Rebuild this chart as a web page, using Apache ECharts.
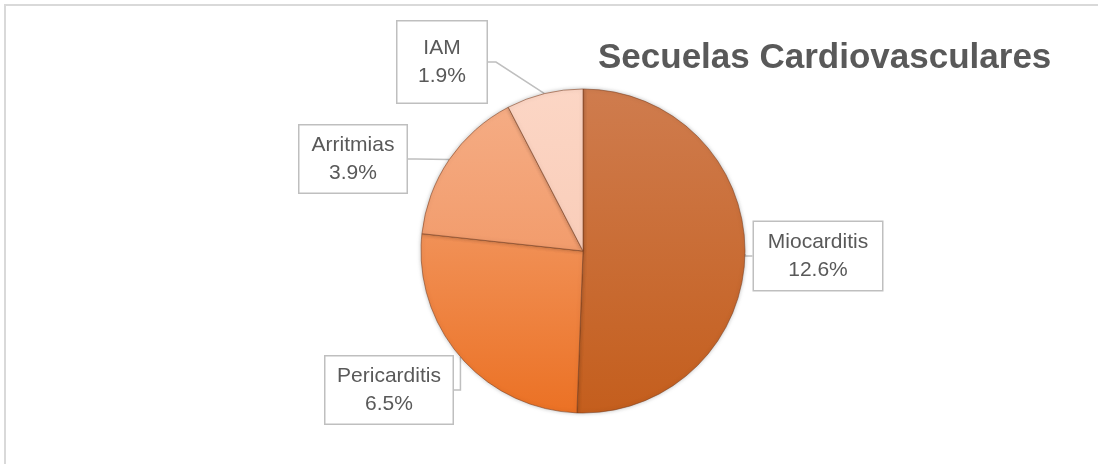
<!DOCTYPE html>
<html>
<head>
<meta charset="utf-8">
<script src="https://cdn.jsdelivr.net/npm/echarts@6/dist/echarts.min.js"></script>
<style>html,body{margin:0;padding:0;background:#fff}#c{width:1098px;height:464px}</style>
</head>
<body>
<div id="c"></div>
<script>
const titleText = 'Secuelas Cardiovasculares';
const categories = ['Miocarditis', 'Pericarditis', 'Arritmias', 'IAM'];
const values = [12.6, 6.5, 3.9, 1.9];
const topColors = ['#CF7C4E', '#F19157', '#F5AC84', '#FCD6C5'];
const bottomColors = ['#C45E1D', '#EB7124', '#F29C6C', '#F9CDB9'];
// label box centres and sizes (layout only)
const labelPos = [[818, 256], [389, 390], [353, 159], [442, 62]];
const labelBox = [[128, 68], [127, 67], [107, 67], [89, 81]];

const chart = echarts.init(document.getElementById('c'), null, {renderer: 'canvas'});
const LH = 28;
const data = categories.map((name, i) => ({
  name,
  value: values[i],
  itemStyle: {
    color: new echarts.graphic.LinearGradient(0, 0, 0, 1, [
      {offset: 0, color: topColors[i]},
      {offset: 1, color: bottomColors[i]}
    ])
  },
  label: {
    width: labelBox[i][0],
    padding: [(labelBox[i][1] - 2 * LH) / 2, 0, (labelBox[i][1] - 2 * LH) / 2, 0]
  }
}));

chart.setOption({
  animation: false,
  graphic: [{
    type: 'rect', shape: {x: 5, y: 5, width: 1200, height: 600},
    style: {fill: 'none', stroke: '#D9D9D9', lineWidth: 2}, silent: true, z: -1
  }],
  title: {
    text: titleText, left: 593, top: 36,
    textStyle: {fontFamily: 'Liberation Sans', fontWeight: 'bold', fontSize: 35, color: '#595959'}
  },
  series: [{
    type: 'pie',
    center: [583, 251],
    radius: [0, 162],
    startAngle: 90,
    clockwise: true,
    data,
    itemStyle: {
      borderColor: 'rgba(120,60,30,0.55)', borderWidth: 1,
      shadowBlur: 4, shadowColor: 'rgba(0,0,0,0.25)'
    },
    label: {
      show: true,
      formatter: p => p.name + '\n' + p.value.toFixed(1) + '%',
      fontFamily: 'Liberation Sans', fontSize: 21, color: '#595959',
      lineHeight: LH, align: 'center',
      backgroundColor: '#fff', borderColor: '#BFBFBF', borderWidth: 1.5
    },
    labelLine: {show: true, length: 8, length2: 8, lineStyle: {color: '#BFBFBF', width: 1.5}},
    labelLayout: params => {
      const i = params.dataIndex;
      return {x: labelPos[i][0], y: labelPos[i][1], align: 'center', verticalAlign: 'middle'};
    }
  }]
});
</script>
</body>
</html>
